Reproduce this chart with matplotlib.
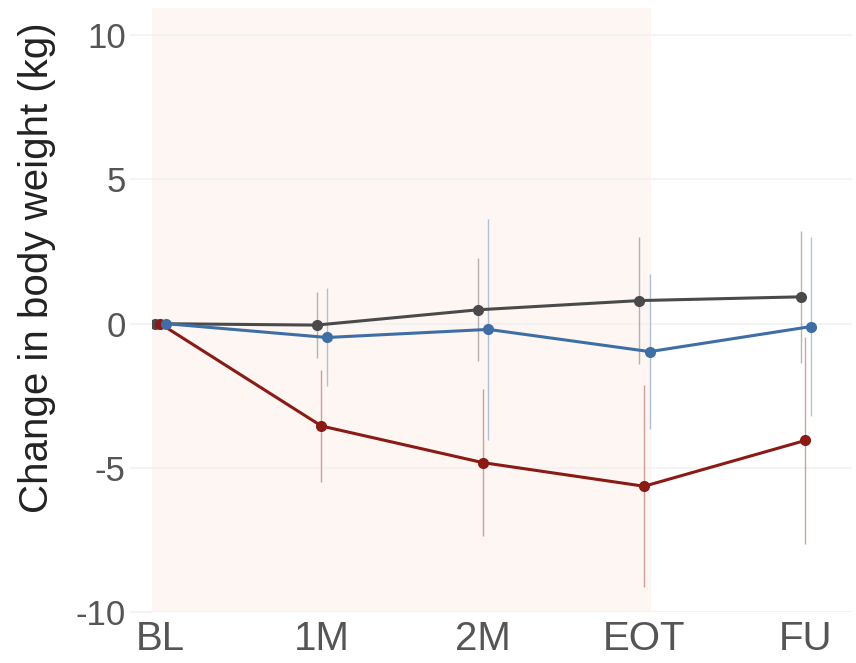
import numpy as np
import matplotlib
matplotlib.use("Agg")
import matplotlib.pyplot as plt

plt.rcParams["font.family"] = ["Liberation Sans", "DejaVu Sans"]
plt.rcParams["axes.unicode_minus"] = False

# ---------------- Data ----------------
timepoints = ["BL", "1M", "2M", "EOT", "FU"]

gray_mean = [0.0, -0.05, 0.48, 0.80, 0.93]
gray_err = [0.0, 1.15, 1.78, 2.20, 2.30]

blue_mean = [0.0, -0.48, -0.20, -0.97, -0.10]
blue_err = [0.0, 1.70, 3.84, 2.70, 3.10]

red_mean = [0.0, -3.55, -4.82, -5.64, -4.05]
red_err = [0.0, 1.95, 2.55, 3.50, 3.60]

series = [
    ("gray", gray_mean, gray_err, "#4a4a4a", -0.03),
    ("red", red_mean, red_err, "#8b1a14", 0.0),
    ("blue", blue_mean, blue_err, "#3e6ea6", 0.035),
]

# ---------------- Plot ----------------
fig = plt.figure(figsize=(8.56, 6.63), dpi=100)
ax = fig.add_axes([0.1776, 0.077, 0.818, 0.911])

x = np.arange(len(timepoints))

# treatment period shading
ax.axvspan(-0.05, 3.045, color="#fdf6f3", zorder=0, lw=0)

for name, mean, err, color, off in series:
    xs = x + off
    ax.errorbar(xs, mean, yerr=err, fmt="none", ecolor=color, elinewidth=1.0,
                alpha=0.4, capsize=0, zorder=2)
    ax.plot(xs, mean, color=color, lw=2.2, marker="o", markersize=7, zorder=3)

ax.set_xlim(-0.05, 4.29)
ax.set_ylim(-10, 10.95)
ax.set_yticks([-10, -5, 0, 5, 10])
ax.set_xticks(x)
ax.set_xticklabels(timepoints)

ax.yaxis.grid(True, color="#f2f2f2", lw=1.2, zorder=1)
ax.set_axisbelow(True)
for s in ax.spines.values():
    s.set_visible(False)

ax.tick_params(axis="y", length=16, color="#f2f2f2", width=1.2, pad=3,
               labelsize=25, labelcolor="#555555")
ax.tick_params(axis="x", length=0, pad=6, labelsize=29, labelcolor="#555555")
ax.set_ylabel("Change in body weight (kg)", fontsize=29, color="#222222")
ax.yaxis.set_label_coords(-0.137, 0.57)

fig.savefig("out.png", dpi=100)
